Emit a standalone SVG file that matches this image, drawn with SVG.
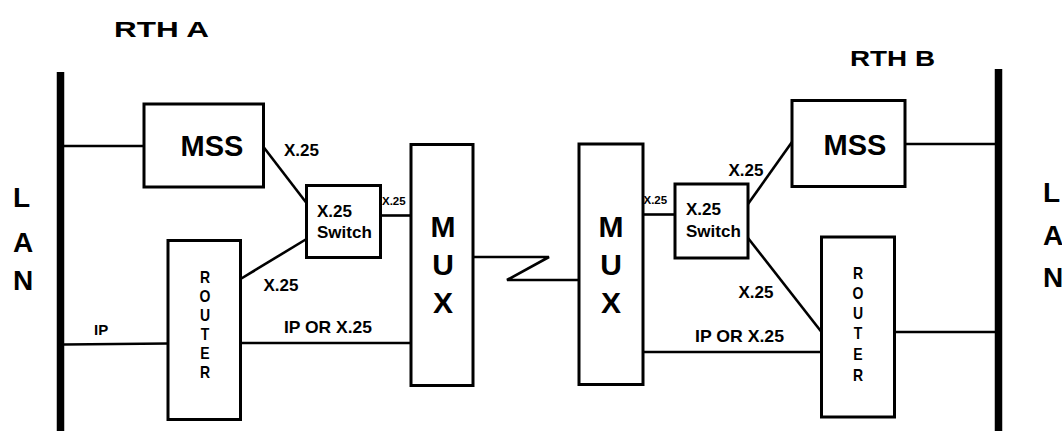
<svg xmlns="http://www.w3.org/2000/svg" width="1062" height="431" viewBox="0 0 1062 431">
<style>
text{font-family:"Liberation Sans",Arial,sans-serif;font-weight:bold;fill:#000}
.box{fill:#fff;stroke:#000;stroke-width:3}
.ln{fill:none;stroke:#000;stroke-width:2.6}
.bar{stroke:#000;stroke-width:7.5}
.big{font-size:29px;text-anchor:middle}
.mux{font-size:30px;text-anchor:middle}
.lbl{font-size:17px}
.sm{font-size:11.5px}
.sw{font-size:17px}
.lan{font-size:28px}
.rt{font-size:14px;text-anchor:middle}
.title{font-size:22.5px}
</style>
<rect width="1062" height="431" fill="#fff"/>
<g id="titles">
<text class="title" x="114" y="37" textLength="95" lengthAdjust="spacingAndGlyphs">RTH A</text>
<text class="title" x="850" y="66" textLength="85" lengthAdjust="spacingAndGlyphs">RTH B</text>
</g>
<g id="lan-a">
<line class="bar" x1="60.5" y1="72" x2="60.5" y2="431"/>
<text class="lan" x="13" y="207">L</text>
<text class="lan" x="13" y="252">A</text>
<text class="lan" x="13" y="290">N</text>
</g>
<g id="lan-b">
<line class="bar" x1="998.5" y1="69" x2="998.5" y2="431"/>
<text class="lan" x="1043" y="202">L</text>
<text class="lan" x="1043" y="245">A</text>
<text class="lan" x="1043" y="287">N</text>
</g>
<g id="connectors">
<line class="ln" x1="64" y1="146" x2="144" y2="146"/>
<line class="ln" x1="263.5" y1="147" x2="306.5" y2="203"/>
<line class="ln" x1="240.5" y1="279" x2="306.5" y2="239"/>
<line class="ln" x1="380.5" y1="215.5" x2="411" y2="215.5"/>
<line class="ln" x1="64" y1="344.5" x2="168" y2="343.5"/>
<line class="ln" x1="240.5" y1="343" x2="411" y2="343"/>
<polyline class="ln" points="473,257 549,257 507,280 579,280"/>
<line class="ln" x1="643" y1="214.5" x2="675" y2="214.5"/>
<line class="ln" x1="792" y1="142" x2="748" y2="204"/>
<line class="ln" x1="905" y1="144" x2="995" y2="144"/>
<line class="ln" x1="748" y1="238" x2="821.5" y2="332"/>
<line class="ln" x1="643" y1="352" x2="821.5" y2="352"/>
<line class="ln" x1="894.5" y1="332" x2="995" y2="332"/>
<text class="lbl" x="284" y="155.5">X.25</text>
<text class="sm" x="382" y="204.5">X.25</text>
<text class="lbl" x="263.5" y="291">X.25</text>
<text class="lbl" x="94" y="335" style="font-size:15px">IP</text>
<text class="lbl" x="284" y="333" textLength="88" lengthAdjust="spacingAndGlyphs">IP OR X.25</text>
<text class="lbl" x="728.5" y="176">X.25</text>
<text class="sm" x="643.5" y="204">X.25</text>
<text class="lbl" x="738.5" y="298">X.25</text>
<text class="lbl" x="695" y="342" textLength="89" lengthAdjust="spacingAndGlyphs">IP OR X.25</text>
</g>
<g id="mss-a">
<rect class="box" x="144" y="104" width="119.5" height="83"/>
<text class="big" x="212" y="156">MSS</text>
</g>
<g id="switch-a">
<rect class="box" x="306.5" y="185.5" width="74" height="72"/>
<text class="sw" x="317" y="216.5">X.25</text>
<text class="sw" x="317" y="237.5">Switch</text>
</g>
<g id="mux-a">
<rect class="box" x="411" y="144.5" width="62" height="241"/>
<text class="mux" x="443" y="236.7">M</text>
<text class="mux" x="443" y="275">U</text>
<text class="mux" x="443" y="313.3">X</text>
</g>
<g id="router-a">
<rect class="box" x="168" y="240.5" width="72.5" height="179"/>
<text class="rt" transform="matrix(1 0 0 1.2 205 283)">R</text>
<text class="rt" transform="matrix(1 0 0 1.2 205 302)">O</text>
<text class="rt" transform="matrix(1 0 0 1.2 205 321)">U</text>
<text class="rt" transform="matrix(1 0 0 1.2 205 340)">T</text>
<text class="rt" transform="matrix(1 0 0 1.2 205 359)">E</text>
<text class="rt" transform="matrix(1 0 0 1.2 205 378)">R</text>
</g>
<g id="mux-b">
<rect class="box" x="579" y="144" width="64" height="240.5"/>
<text class="mux" x="611" y="236.7">M</text>
<text class="mux" x="611" y="275">U</text>
<text class="mux" x="611" y="313.3">X</text>
</g>
<g id="switch-b">
<rect class="box" x="675" y="184" width="73" height="74"/>
<text class="sw" x="686" y="214.5">X.25</text>
<text class="sw" x="686" y="236.7">Switch</text>
</g>
<g id="mss-b">
<rect class="box" x="792" y="100.5" width="113" height="86"/>
<text class="big" x="855" y="154.5">MSS</text>
</g>
<g id="router-b">
<rect class="box" x="821.5" y="237" width="73" height="180"/>
<text class="rt" transform="matrix(1 0 0 1.2 858 279)">R</text>
<text class="rt" transform="matrix(1 0 0 1.2 858 299)">O</text>
<text class="rt" transform="matrix(1 0 0 1.2 858 319)">U</text>
<text class="rt" transform="matrix(1 0 0 1.2 858 339)">T</text>
<text class="rt" transform="matrix(1 0 0 1.2 858 360)">E</text>
<text class="rt" transform="matrix(1 0 0 1.2 858 381)">R</text>
</g>
</svg>
